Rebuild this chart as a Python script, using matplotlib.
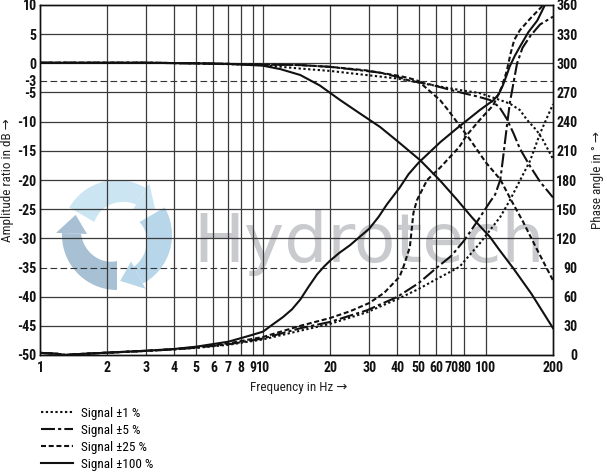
import numpy as np
import matplotlib
matplotlib.use('Agg')
import matplotlib.pyplot as plt
from matplotlib import font_manager
from matplotlib.patches import Polygon

# ---------------- data ----------------
freq_ticks = [1, 2, 3, 4, 5, 6, 7, 8, 9, 10, 20, 30, 40, 50, 60, 70, 80, 100, 200]
freq_tick_labels = ['1', '2', '3', '4', '5', '6', '7', '8', '9', '10', '20', '30',
                    '40', '50', '60', '70', '80', '100', '200']
db_ticks = [10, 5, 0, -3, -5, -10, -15, -20, -25, -30, -35, -40, -45, -50]
db_grid = [5, 0, -5, -10, -15, -20, -25, -30, -40, -45]
db_ref = [-3, -35]
phase_ticks = [0, 30, 60, 90, 120, 150, 180, 210, 240, 270, 300, 330, 360]

labels = ['Signal \u00b11 %', 'Signal \u00b15 %', 'Signal \u00b125 %', 'Signal \u00b1100 %']

# amplitude ratio (dB)
amp1_f = [1, 3, 5, 10, 14.7, 20, 29, 40, 46, 55, 67, 80, 94, 116, 128, 142, 153, 169, 180, 200]
amp1_db = [0.1, 0.1, 0.0, -0.3, -0.9, -1.3, -2.0, -2.6, -3.0, -3.6, -4.2, -4.7, -5.1, -6.3,
           -6.9, -8.0, -9.7, -11.5, -13.1, -16.4]

amp5_f = [1, 3, 5, 10, 14.7, 20, 29, 33.5, 40, 45.7, 56, 67, 79, 92, 104.5, 115, 124, 133,
          142, 157, 175, 200]
amp5_db = [0.1, 0.1, 0.0, -0.2, -0.3, -0.6, -1.3, -1.6, -2.3, -3.0, -3.6, -4.4, -5.1, -5.7,
           -6.3, -7.5, -9.5, -12.0, -14.6, -17.5, -20.3, -23.0]

amp25_f = [1, 3, 5, 10, 14.7, 20, 29, 40, 45, 49.6, 55, 62.3, 67, 85, 100, 116, 130, 147,
           170, 200]
amp25_db = [0.1, 0.1, 0.0, -0.2, -0.3, -0.6, -1.2, -2.1, -2.5, -3.0, -4.5, -6.3, -7.8,
            -13.1, -17.0, -19.9, -23.5, -27.2, -32.0, -37.2]

amp100_f = [1, 2, 3, 5, 7, 10, 12, 14.7, 18, 22.2, 27, 33.5, 40, 50.7, 62, 74.3, 87, 104.5,
            115, 132.5, 160, 200]
amp100_db = [0.1, 0.1, 0.1, 0.0, -0.1, -0.4, -1.0, -2.0, -3.8, -6.3, -8.5, -10.9, -13.3,
             -16.6, -20.0, -23.4, -26.5, -29.8, -32.0, -35.1, -39.5, -45.4]

# phase angle (deg)
ph1_f = [1, 1.2, 1.3, 1.45, 2, 3, 4, 5, 7, 10, 14.7, 20, 29.3, 41, 50, 60, 76, 94, 116,
         128, 158, 175, 200]
ph1_deg = [2.2, 1.2, 0, 0.8, 2.4, 4.2, 5.8, 7.3, 10.5, 16, 25, 32, 44, 58.5, 68, 78, 90.5,
           115, 142, 159, 200, 228, 258]

ph5_f = [1, 1.2, 1.3, 1.45, 2, 3, 4, 5, 7, 10, 14.7, 20, 29.3, 40, 50, 60, 70, 80, 90, 104,
         110, 116, 119, 124, 128, 133, 138, 146, 158, 175, 200]
ph5_deg = [2.2, 1.2, 0, 0.8, 2.4, 4.2, 5.8, 7.5, 11, 17, 27.5, 34, 46, 59.7, 74, 89.5, 102,
           118, 135, 157, 165, 180, 200, 234, 259, 280, 300, 316, 328, 340, 348]

ph25_f = [1, 1.2, 1.3, 1.45, 2, 3, 4, 5, 7, 10, 14.7, 20, 24.6, 30, 35, 41, 42.7, 45.6,
          47.3, 49, 54.5, 62.5, 76, 82, 94, 108, 118, 124, 129, 134, 142, 158, 181]
ph25_deg = [2.2, 1.2, 0, 0.8, 2.4, 4.4, 6, 8, 12, 18.5, 30, 38, 45, 53.5, 64, 80.5, 90.8,
            111, 146, 159, 180, 193, 214, 226, 242, 257, 276, 292, 310, 324, 334, 346, 360]

ph100_f = [1, 1.2, 1.3, 1.45, 2, 3, 4, 5, 7, 8.75, 10, 11, 12.3, 13.5, 14.7, 16, 17.5,
           18.8, 20, 22, 24.6, 27, 30, 33, 36, 41, 45, 50, 62.5, 74, 94, 108, 114, 119,
           124, 128, 135, 142, 155, 170, 184]
ph100_deg = [2.2, 1.2, 0, 0.8, 2.4, 4.4, 6.2, 8.5, 13.7, 20, 24, 31, 39, 47, 57, 70, 83,
             91, 97, 105, 113, 121, 130, 142, 155, 172, 186, 198, 219, 233, 252, 262, 268,
             277, 288, 297, 308, 317, 332, 344, 360]

# ---------------- fonts ----------------
avail = {f.name for f in font_manager.fontManager.ttflist}
FONT = next((n for n in ['Roboto Condensed', 'IBM Plex Sans Condensed', 'PT Sans Narrow',
                         'Liberation Sans'] if n in avail), 'DejaVu Sans')
FAM = [FONT, 'DejaVu Sans']

# ---------------- figure ----------------
W, H = 607, 472
fig = plt.figure(figsize=(W / 100, H / 100), dpi=100)
fig.patch.set_facecolor('white')
L, R, T, B = 40, 553, 5, 355

# watermark logo (behind the chart)
cx, cy, rr = 117, 235, 62
lax = fig.add_axes([(cx - rr) / W, 1 - (cy + rr) / H, 2 * rr / W, 2 * rr / H])
lax.set_xlim(-rr, rr)
lax.set_ylim(-rr, rr)
lax.axis('off')
lax.set_zorder(0)
logo_cols = ['#c9e4f3', '#b3d4e9', '#a3bdd2']
for k in range(3):
    a0 = np.deg2rad(150 - 120 * k)
    a1 = np.deg2rad(150 - 120 * k - 92)
    th = np.linspace(a0, a1, 40)
    rin = np.linspace(26, 36, 40)
    outer = np.column_stack([55 * np.cos(th), 55 * np.sin(th)])
    inner = np.column_stack([rin[::-1] * np.cos(th[::-1]), rin[::-1] * np.sin(th[::-1])])
    lax.add_patch(Polygon(np.vstack([outer, inner]), closed=True,
                          facecolor=logo_cols[k], edgecolor='none', alpha=0.95))
    ta = a1 - np.deg2rad(24)
    head = [[61 * np.cos(a1), 61 * np.sin(a1)],
            [46 * np.cos(ta), 46 * np.sin(ta)],
            [30 * np.cos(a1), 30 * np.sin(a1)]]
    lax.add_patch(Polygon(head, closed=True, facecolor=logo_cols[k],
                          edgecolor='none', alpha=0.95))

fig.text(193.5 / W, 1 - 262 / H, 'Hydrotech', fontsize=49, color='#c9cacd',
         family='DejaVu Sans', ha='left', va='baseline', zorder=0.5)

ax = fig.add_axes([L / W, 1 - B / H, (R - L) / W, (B - T) / H])
ax.set_zorder(2)
ax.patch.set_alpha(0)
ax.set_xscale('log')
ax.set_xlim(1, 200)
ax.set_ylim(-50, 10)

# grid
for f in freq_ticks[1:-1]:
    ax.axvline(f, color='#3a3a3a', lw=0.9, zorder=1)
for d in db_grid:
    ax.axhline(d, color='#3a3a3a', lw=0.9, zorder=1)
for d in db_ref:
    ax.axhline(d, color='#333333', lw=0.8, ls=(0, (6, 3)), zorder=1)

styles = [(0, (1.1, 1.2)), (0, (6.7, 1.5, 1.5, 1.5)), (0, (2.4, 1.3)), '-']
LW = 1.5
col = '#111111'
amp_f = [amp1_f, amp5_f, amp25_f, amp100_f]
amp_db = [amp1_db, amp5_db, amp25_db, amp100_db]
handles = []
for fvals, dvals, ls in zip(amp_f, amp_db, styles):
    h, = ax.plot(fvals, dvals, color=col, lw=LW, ls=ls, zorder=3)
    handles.append(h)

ax2 = ax.twinx()
ax2.set_zorder(3)
ax2.patch.set_visible(False)
ax2.set_ylim(0, 360)
ph_f = [ph1_f, ph5_f, ph25_f, ph100_f]
ph_d = [ph1_deg, ph5_deg, ph25_deg, ph100_deg]
for fvals, pvals, ls in zip(ph_f, ph_d, styles):
    ax2.plot(fvals, pvals, color=col, lw=LW, ls=ls, zorder=3)

# ticks
ax.set_xticks(freq_ticks)
ax.set_xticklabels(freq_tick_labels)
ax.xaxis.set_minor_locator(matplotlib.ticker.NullLocator())
ax.set_yticks(db_ticks)
ax.set_yticklabels([str(v) for v in db_ticks])
ax2.set_yticks(phase_ticks)
ax2.set_yticklabels([str(v) for v in phase_ticks])
ax.tick_params(axis='x', length=0, pad=4)
ax.tick_params(axis='y', length=0, pad=2.5)
ax2.tick_params(axis='y', length=0, pad=17.5)
for lab in ax.get_xticklabels() + ax.get_yticklabels() + ax2.get_yticklabels():
    lab.set_family(FAM)
    lab.set_fontweight('bold')
    lab.set_fontsize(10)
    lab.set_color('#111111')
for lab in ax2.get_yticklabels():
    lab.set_horizontalalignment('right')

for a in (ax, ax2):
    for s in a.spines.values():
        s.set_color('#111111')
        s.set_linewidth(1.0)

lab_kw = dict(family=FAM, fontsize=9.5, color='#222222')
ax.set_ylabel('Amplitude ratio in dB \u2192', **lab_kw)
ax.yaxis.set_label_coords((14 - L) / (R - L), 0.5)
ax2.set_ylabel('Phase angle in \u00b0 \u2192', rotation=90, **lab_kw)
ax2.yaxis.set_label_coords((591 - L) / (R - L), 0.5)
ax.set_xlabel('Frequency in Hz \u2192', **lab_kw)
ax.xaxis.set_label_coords((299 - L) / (R - L), (B - 381) / (B - T))

fig.legend(handles, labels, loc='upper left', bbox_to_anchor=(41 / W, 1 - 407 / H),
           frameon=False, borderpad=0, borderaxespad=0, handlelength=2.4,
           handletextpad=0.65, labelspacing=0.3,
           prop=dict(family=FAM, size=9.5))

fig.savefig('out.png', dpi=100)
